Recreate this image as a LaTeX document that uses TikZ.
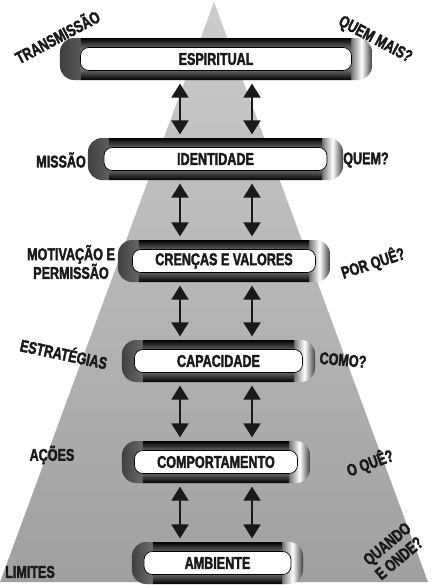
\documentclass[tikz,border=0pt]{standalone}
\usepackage{fontspec}
\IfFontExistsTF{FiraSans-Black.otf}
  {\newfontfamily\levelfont{FiraSans-Black.otf}[FakeStretch=0.70,BoldFont=FiraSans-Black.otf,BoldFeatures={FakeStretch=0.70}]}
  {\newfontfamily\levelfont{Liberation Sans}[FakeStretch=0.74,BoldFeatures={FakeBold=2}]}
\usetikzlibrary{arrows.meta}

\begin{document}
\begin{tikzpicture}[x=0.03cm,y=-0.03cm,
  every node/.style={font=\levelfont\bfseries\fontsize{14.5}{16}\selectfont,text=black!90},
  levelbar/.style={minimum height=1.26cm,inner sep=0pt,rounded corners=0.42cm,
    path picture={
      \shade[sharp corners,left color=black!75,right color=black!55,middle color=white]
        (path picture bounding box.south west) rectangle ([xshift=0.63cm]path picture bounding box.north west);
      \shade[sharp corners,left color=black!55,right color=black!75,middle color=white]
        ([xshift=-0.63cm]path picture bounding box.south east) rectangle (path picture bounding box.north east);
      \shade[sharp corners,top color=black,bottom color=black,middle color=gray!30]
        ([xshift=0.63cm]path picture bounding box.south west) rectangle ([xshift=-0.63cm]path picture bounding box.north east);
    }},
  levelbox/.style={draw=black,line width=0.6pt,fill=white,rounded corners=0.25cm,
    minimum height=0.69cm,inner sep=0pt},
  dblarrow/.style={line width=2.3pt,draw=black!90,
    {Triangle[length=0.42cm,width=0.5cm]}-{Triangle[length=0.42cm,width=0.5cm]},
    shorten <=0.1cm,shorten >=0.1cm}]
  \useasboundingbox (0,0) rectangle (433,585);
  % pyramid
  \shade[top color=gray!40,bottom color=gray!75] (214,2) -- (0,582) -- (428,582) -- cycle;
  % shaded bars
  \node[levelbar,minimum width=9.36cm] (espiritual) at (216,59) {};
  \node[levelbar,minimum width=7.65cm] (identidade) at (215.5,159) {};
  \node[levelbar,minimum width=6.36cm] (crencas) at (224,261) {};
  \node[levelbar,minimum width=5.79cm] (capacidade) at (218.5,361) {};
  \node[levelbar,minimum width=5.64cm] (comportamento) at (216,462) {};
  \node[levelbar,minimum width=5.13cm] (ambiente) at (217.5,563) {};
  % white boxes with the level names
  \node[levelbox,minimum width=8.13cm] (espiritual-box) at (espiritual) {ESPIRITUAL};
  \node[levelbox,minimum width=6.69cm] (identidade-box) at (identidade) {IDENTIDADE};
  \node[levelbox,minimum width=5.49cm] (crencas-box) at (crencas) {CRENÇAS E VALORES};
  \node[levelbox,minimum width=5.04cm] (capacidade-box) at (capacidade) {CAPACIDADE};
  \node[levelbox,minimum width=4.89cm] (comportamento-box) at (comportamento) {COMPORTAMENTO};
  \node[levelbox,minimum width=4.41cm] (ambiente-box) at (ambiente) {AMBIENTE};
  % double arrows between levels
  \coordinate (la) at (180,0);
  \coordinate (ra) at (252,0);
  \draw[dblarrow] (espiritual.south -| la) -- (identidade.north -| la);
  \draw[dblarrow] (espiritual.south -| ra) -- (identidade.north -| ra);
  \draw[dblarrow] (identidade.south -| la) -- (crencas.north -| la);
  \draw[dblarrow] (identidade.south -| ra) -- (crencas.north -| ra);
  \draw[dblarrow] (crencas.south -| la) -- (capacidade.north -| la);
  \draw[dblarrow] (crencas.south -| ra) -- (capacidade.north -| ra);
  \draw[dblarrow] (capacidade.south -| la) -- (comportamento.north -| la);
  \draw[dblarrow] (capacidade.south -| ra) -- (comportamento.north -| ra);
  \draw[dblarrow] (comportamento.south -| la) -- (ambiente.north -| la);
  \draw[dblarrow] (comportamento.south -| ra) -- (ambiente.north -| ra);
  % left side labels
  \node[rotate=28] (transmissao) at (57,36) {TRANSMISSÃO};
  \node (missao) at (61,160) {MISSÃO};
  \node[align=center] (motivacao) at (71,262) {MOTIVAÇÃO E\\PERMISSÃO};
  \node[rotate=-12] (estrategias) at (64,353) {ESTRATÉGIAS};
  \node (acoes) at (52,455) {AÇÕES};
  \node (limites) at (30,572) {LIMITES};
  % right side questions
  \node[rotate=-28] (quemmais) at (375,40) {QUEM MAIS?};
  \node (quem) at (366,160) {QUEM?};
  \node[rotate=18] (porque) at (373,263) {POR QUÊ?};
  \node[rotate=-5] (como) at (343,360) {COMO?};
  \node[rotate=20] (oque) at (370,463) {O QUÊ?};
  \node[rotate=40,align=center] (quando) at (393,551) {QUANDO\\E ONDE?};
\end{tikzpicture}
\end{document}
